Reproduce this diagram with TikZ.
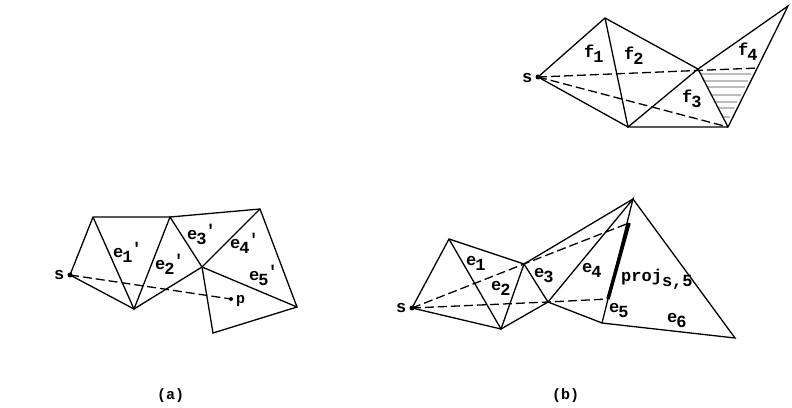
\documentclass[tikz,border=0pt]{standalone}
\usepackage{fontspec}
\setmonofont{Liberation Mono}
\usetikzlibrary{calc}

\tikzset{
    edge/.style={line width=1.3pt},
    ray/.style={line width=1.3pt, dash pattern=on 9pt off 4pt},
    hatch/.style={line width=0.7pt, black!75},
    lab/.style={anchor=base west, inner sep=0pt, font=\fontsize{17}{17}\ttfamily\bfseries},
    smalllab/.style={anchor=base west, inner sep=0pt, font=\fontsize{15}{15}\ttfamily\bfseries}
}
\newcommand{\subl}[2]{#1\kern-1pt\raisebox{-5pt}{#2}}
\newcommand{\subp}[2]{#1\kern-1pt\raisebox{-5pt}{#2}\kern-1pt\raisebox{3pt}{'}}

\begin{document}
\begin{tikzpicture}[x=1pt, y=-1pt]
    \useasboundingbox (0,0) rectangle (792,407);

    % top right fan, faces f1 to f4
    \coordinate (fs) at (538,77);
    \coordinate (fa) at (605,18);
    \coordinate (fb) at (698,69);
    \coordinate (fc) at (628,127);
    \coordinate (fd) at (728,127);
    \coordinate (fe) at (788,6);
    \coordinate (fr) at (758,68);
    \draw[edge] (fs) -- (fa) -- (fb) -- (fe) -- (fd) -- (fc) -- cycle;
    \draw[edge] (fa) -- (fc) -- (fb) -- (fd);
    \draw[ray] (fs) -- (fr);
    \draw[ray] (fs) -- (fd);
    \fill (fs) circle (2.5pt);
    % shaded part of f4
    \foreach \ypos [evaluate=\ypos as \tb using (\ypos-69)/58,
                    evaluate=\ypos as \te using (127-\ypos)/121] in {74,81,87,95,102,108,117}
        \draw[hatch] ($(fb)!\tb!(fd)$) -- ($(fd)!\te!(fe)+(-3,0)$);
    \node[lab] (fslab) at (522,82) {s};
    \node[lab] (f1lab) at (584,57) {\subl{f}{1}};
    \node[lab] (f2lab) at (624,59) {\subl{f}{2}};
    \node[lab] (f3lab) at (682,102) {\subl{f}{3}};
    \node[lab] (f4lab) at (738,55) {\subl{f}{4}};

    % left picture, (a)
    \coordinate (as) at (70,275);
    \coordinate (aa) at (93,217);
    \coordinate (ab) at (170,217);
    \coordinate (ac) at (260,209);
    \coordinate (ad) at (202,267);
    \coordinate (ae) at (134,309);
    \coordinate (af) at (297,307);
    \coordinate (ag) at (213,333);
    \coordinate (ap) at (231,299);
    \draw[edge] (as) -- (aa) -- (ab) -- (ac) -- (af) -- (ag) -- (ad) -- (ae) -- cycle;
    \draw[edge] (aa) -- (ae) -- (ab) -- (ad) -- (ac);
    \draw[edge] (ad) -- (af);
    \draw[ray] (as) -- (ap);
    \fill (as) circle (2.5pt);
    \fill (ap) circle (2pt);
    \node[lab] (aslab) at (54,279) {s};
    \node[lab] (e1a) at (113,257) {\subp{e}{1}};
    \node[lab] (e2a) at (155,269) {\subp{e}{2}};
    \node[lab] (e3a) at (187,239) {\subp{e}{3}};
    \node[lab] (e4a) at (230,248) {\subp{e}{4}};
    \node[lab] (e5a) at (249,280) {\subp{e}{5}};
    \node[smalllab] (aplab) at (236,303) {p};

    % right picture, (b)
    \coordinate (bs) at (412,308);
    \coordinate (ba) at (449,239);
    \coordinate (bb) at (524,264);
    \coordinate (bc) at (633,199);
    \coordinate (bd) at (548,302);
    \coordinate (be) at (501,329);
    \coordinate (bf) at (602,323);
    \coordinate (bg) at (735,338);
    \coordinate (bu) at (629,223);
    \coordinate (bl) at (608,299);
    \draw[edge] (bs) -- (ba) -- (bb) -- (bc) -- (bg) -- (bf) -- (bd) -- (be) -- cycle;
    \draw[edge] (ba) -- (be) -- (bb) -- (bd) -- (bc) -- (bf);
    \draw[ray] (bs) -- (bb) -- (bu);
    \draw[ray] (bs) -- (bd) -- (bl);
    \draw[line width=3.5pt] (bu) -- (bl);
    \fill (bs) circle (2.5pt);
    \node[lab] (bslab) at (396,312) {s};
    \node[lab] (e1b) at (466,265) {\subl{e}{1}};
    \node[lab] (e2b) at (491,290) {\subl{e}{2}};
    \node[lab] (e3b) at (534,277) {\subl{e}{3}};
    \node[lab] (e4b) at (582,272) {\subl{e}{4}};
    \node[lab] (e5b) at (609,312) {\subl{e}{5}};
    \node[lab] (e6b) at (667,322) {\subl{e}{6}};
    \node[lab] (projlab) at (621,281) {proj\raisebox{-5pt}{s,5}};

    % captions
    \node[smalllab] (capa) at (157,399) {(a)};
    \node[smalllab] (capb) at (552,399) {(b)};
\end{tikzpicture}
\end{document}
